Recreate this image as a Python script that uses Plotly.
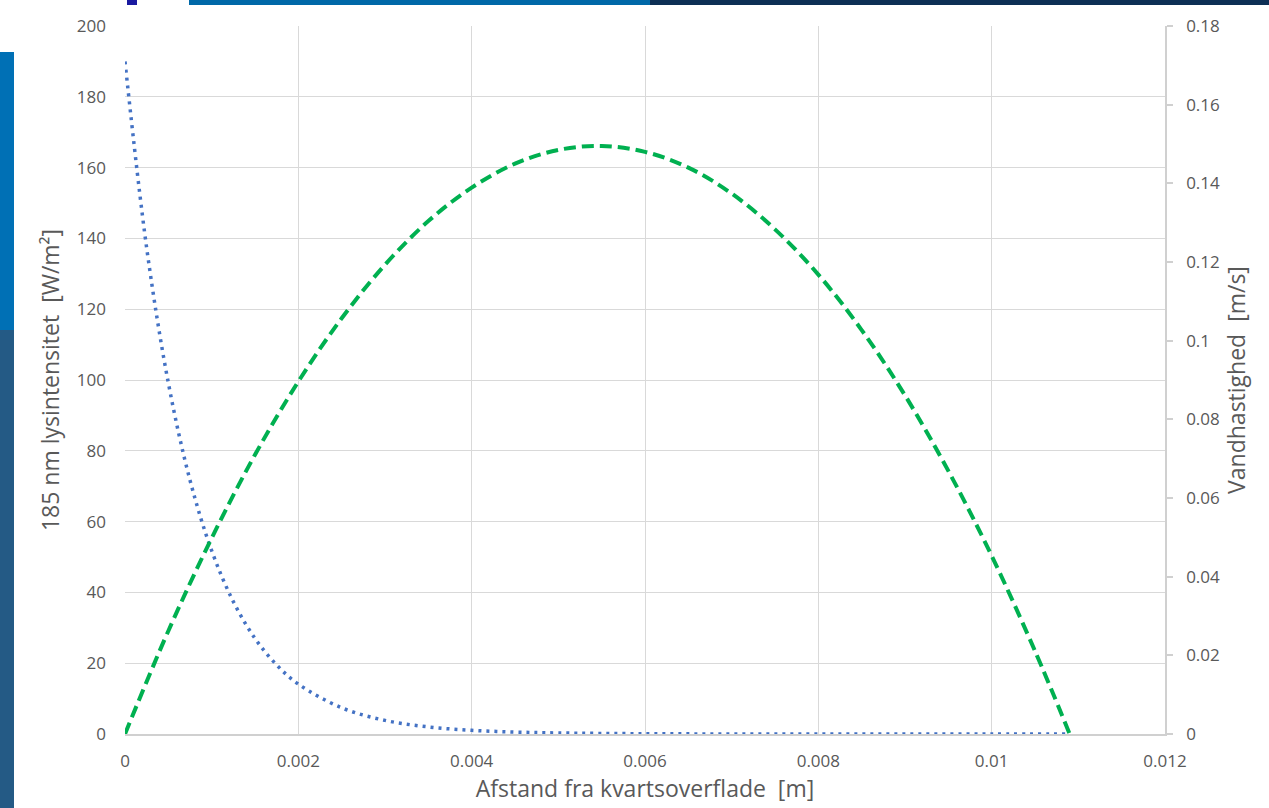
import plotly.graph_objects as go

# Data
dist_blue = [0, 0.00025, 0.0005, 0.00075, 0.001, 0.00125, 0.0015, 0.00175, 0.002,
             0.0025, 0.003, 0.0035, 0.004, 0.0045, 0.005, 0.006, 0.007, 0.008,
             0.009, 0.01, 0.0109]
intensity = [190, 137.3, 99.2, 71.7, 51.8, 37.4, 27.0, 19.5, 14.1,
             7.4, 3.85, 2.0, 1.05, 0.55, 0.29, 0.08, 0.02, 0.006,
             0.002, 0.0004, 0.0001]

dist_green = [0, 0.0005, 0.001, 0.0015, 0.002, 0.0025, 0.003, 0.0035, 0.004,
              0.0045, 0.005, 0.0055, 0.006, 0.0065, 0.007, 0.0075, 0.008,
              0.0085, 0.009, 0.0095, 0.01, 0.0105, 0.0109]
velocity = [0, 0.0262, 0.0498, 0.0710, 0.0896, 0.1057, 0.1193, 0.1304, 0.1389,
            0.1450, 0.1485, 0.1495, 0.1480, 0.1440, 0.1374, 0.1283, 0.1168,
            0.1027, 0.0861, 0.0669, 0.0453, 0.0211, 0]

x_ticks = [0, 0.002, 0.004, 0.006, 0.008, 0.01, 0.012]
x_ticklabels = ["0", "0.002", "0.004", "0.006", "0.008", "0.01", "0.012"]
y2_ticks = [0, 0.02, 0.04, 0.06, 0.08, 0.1, 0.12, 0.14, 0.16, 0.18]
y2_ticklabels = ["0", "0.02", "0.04", "0.06", "0.08", "0.1", "0.12", "0.14", "0.16", "0.18"]

W, H = 1269, 808
L, R, T, B = 125, 104, 26, 74
pw, ph = W - L - R, H - T - B

def px(xp):
    return (xp - L) / pw

def py(yp):
    return (H - B - yp) / ph

FONT = "'Open Sans', Lato, sans-serif"
GREY = "#595959"

fig = go.Figure()
fig.add_trace(go.Scatter(x=dist_blue, y=intensity, mode="lines", line_shape="spline",
                         line=dict(color="#4472C4", width=3.5, dash="3px,5px"),
                         name="185 nm lysintensitet", yaxis="y"))
fig.add_trace(go.Scatter(x=dist_green, y=velocity, mode="lines", line_shape="spline",
                         line=dict(color="#00B050", width=4, dash="12px,6px"),
                         name="Vandhastighed", yaxis="y2"))

shapes = [
    # decorative slide background pieces
    dict(type="rect", xref="paper", yref="paper", x0=px(0), x1=px(14), y0=py(808), y1=py(52),
         fillcolor="#245a85", line_width=0, layer="below"),
    dict(type="rect", xref="paper", yref="paper", x0=px(0), x1=px(14), y0=py(330), y1=py(52),
         fillcolor="#0070b5", line_width=0, layer="below"),
    dict(type="rect", xref="paper", yref="paper", x0=px(189), x1=px(650), y0=py(5), y1=py(0),
         fillcolor="#0068a8", line_width=0, layer="below"),
    dict(type="rect", xref="paper", yref="paper", x0=px(650), x1=px(1269), y0=py(5), y1=py(0),
         fillcolor="#0d2f55", line_width=0, layer="below"),
    dict(type="rect", xref="paper", yref="paper", x0=px(127), x1=px(137), y0=py(5), y1=py(0),
         fillcolor="#1a1aa0", line_width=0, layer="below"),
]

fig.update_layout(
    width=W, height=H,
    margin=dict(l=L, r=R, t=T, b=B),
    paper_bgcolor="white", plot_bgcolor="white",
    showlegend=False,
    font=dict(family=FONT, color=GREY),
    shapes=shapes,
    xaxis=dict(range=[0, 0.012], tickvals=x_ticks, ticktext=x_ticklabels,
               showgrid=True, gridcolor="#d9d9d9", gridwidth=1,
               showline=True, linecolor="#d0d0d0", linewidth=1.5,
               zeroline=False, ticks="", tickfont=dict(size=17, color=GREY),
               ticklabelstandoff=11,
               title=dict(text="Afstand fra kvartsoverflade  [m]", font=dict(size=23, color=GREY),
                          standoff=6)),
    yaxis=dict(range=[0, 200], dtick=20, showgrid=True, gridcolor="#d9d9d9", gridwidth=1,
               zeroline=False, showline=False, ticks="", tickfont=dict(size=17, color=GREY),
               ticklabelstandoff=18,
               title=dict(text="185 nm lysintensitet  [W/m²]", font=dict(size=23, color=GREY),
                          standoff=10)),
    yaxis2=dict(range=[0, 0.18], tickvals=y2_ticks, ticktext=y2_ticklabels,
                overlaying="y", side="right", showgrid=False, zeroline=False,
                showline=True, linecolor="#d0d0d0", linewidth=1.5,
                ticks="outside", ticklen=6, tickcolor="#d0d0d0", tickwidth=1.5,
                tickfont=dict(size=17, color=GREY), ticklabelstandoff=10,
                title=dict(text="Vandhastighed  [m/s]", font=dict(size=23, color=GREY),
                           standoff=10)),
)

fig.write_html("out.html", config={"displayModeBar": False},
               post_script="document.body.style.margin='0';")
